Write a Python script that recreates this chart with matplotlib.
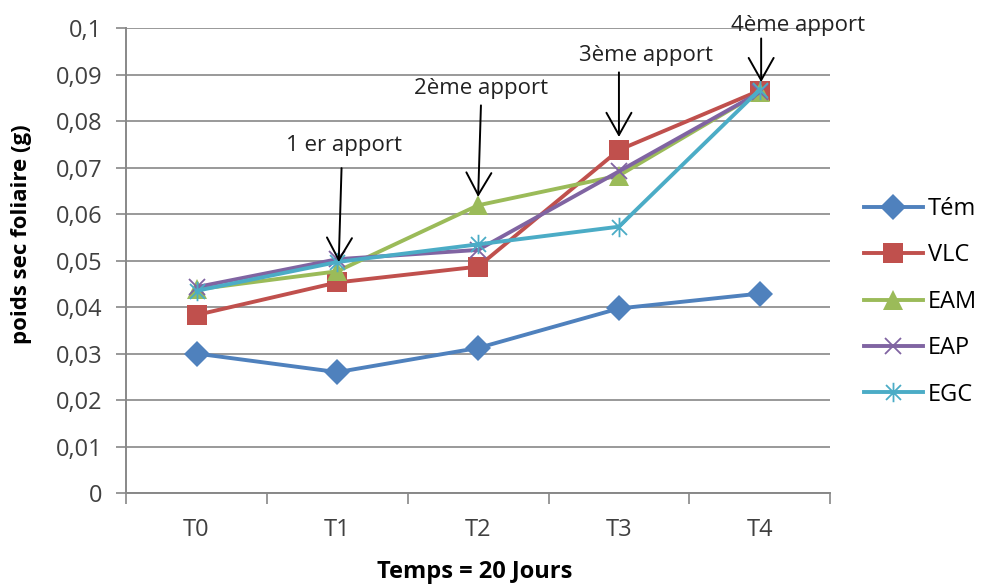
import matplotlib.pyplot as plt
import numpy as np
from matplotlib.path import Path

# Data
categories = ['T0', 'T1', 'T2', 'T3', 'T4']
series_names = ['Tém', 'VLC', 'EAM', 'EAP', 'EGC']
tem = [0.030, 0.026, 0.0312, 0.0397, 0.0429]
vlc = [0.0383, 0.0453, 0.0487, 0.0738, 0.0866]
eam = [0.0438, 0.0477, 0.0619, 0.0683, 0.0862]
eap = [0.0443, 0.0503, 0.0523, 0.0692, 0.0862]
egc = [0.0435, 0.0497, 0.0535, 0.0573, 0.0868]
y_ticks = [0, 0.01, 0.02, 0.03, 0.04, 0.05, 0.06, 0.07, 0.08, 0.09, 0.1]
apports = ['1 er apport', '2ème apport', '3ème apport', '4ème apport']

colors = ['#4F81BD', '#C0504D', '#9BBB59', '#8064A2', '#4BACC6']

# Excel-like asterisk marker (x plus a vertical bar)
star = Path([(-1, -1), (1, 1), (-1, 1), (1, -1), (0, -1.3), (0, 1.3)],
            [Path.MOVETO, Path.LINETO, Path.MOVETO, Path.LINETO, Path.MOVETO, Path.LINETO])
markers = ['D', 's', '^', 'x', star]
msizes = [13, 14, 14, 12, 14]

plt.rcParams['font.family'] = ['Open Sans', 'DejaVu Sans']

fig = plt.figure(figsize=(9.93, 5.88), dpi=100)
ax = fig.add_axes([0.127, 0.1616, 0.709, 0.7904])

x = np.arange(len(categories))
all_series = [tem, vlc, eam, eap, egc]
for i, (vals, name, c, m, ms) in enumerate(zip(all_series, series_names, colors, markers, msizes)):
    if i >= 3:
        ax.plot(x, vals, color=c, lw=2.8, marker=m, ms=ms, mew=1.3,
                markerfacecolor='none', markeredgecolor=c, label=name, zorder=3)
    else:
        ax.plot(x, vals, color=c, lw=2.8, marker=m, ms=ms, mew=0,
                markerfacecolor=c, label=name, zorder=3)

ax.set_xlim(-0.5, len(categories) - 0.5)
ax.set_ylim(0, 0.1)
ax.set_yticks(y_ticks)
ax.set_yticklabels([('%g' % v).replace('.', ',') for v in y_ticks],
                   fontsize=17, color='#404040')
ax.set_xticks(x)
ax.set_xticklabels(categories, fontsize=17, color='#404040')
ax.set_xticks(np.arange(-0.5, len(categories)), minor=True)
ax.tick_params(axis='x', which='major', length=0, pad=18)
ax.tick_params(axis='x', which='minor', length=8, width=1.2, color='#888888', direction='out')
ax.tick_params(axis='y', length=7, width=1.2, color='#888888', direction='out', pad=10)
ax.grid(axis='y', color='#999999', lw=1.4)
ax.set_axisbelow(True)
for s in ['top', 'right']:
    ax.spines[s].set_visible(False)
for s in ['left', 'bottom']:
    ax.spines[s].set_color('#888888')
    ax.spines[s].set_linewidth(1.4)

fig.text(22 / 993, 1 - 234 / 588, 'poids sec foliaire (g)', rotation=90,
         fontsize=16, fontweight='bold', ha='center', va='center')
fig.text(475 / 993, 1 - 572 / 588, 'Temps = 20 Jours',
         fontsize=17, fontweight='bold', ha='center', va='center')

# Annotations for each apport
text_pos = [(1.05, 0.0748), (2.02, 0.0871), (3.19, 0.0942), (4.27, 0.1006)]
arrow_start = [(1.03, 0.0699), (2.02, 0.0834), (3.0, 0.0905), (4.01, 0.0978)]
arrow_tip = [(1.01, 0.0497), (2.0, 0.0637), (3.0, 0.0766), (4.01, 0.0884)]
for label, tp, st, tip in zip(apports, text_pos, arrow_start, arrow_tip):
    ax.text(tp[0], tp[1], label, fontsize=16, ha='center', va='center',
            color='#222222', clip_on=False)
    ax.annotate('', xy=tip, xytext=st, annotation_clip=False,
                arrowprops=dict(arrowstyle='->,head_length=0.8,head_width=0.45',
                                color='black', lw=1.4, mutation_scale=20,
                                shrinkA=0, shrinkB=0))

fig.legend(*ax.get_legend_handles_labels(), loc='upper left',
           bbox_to_anchor=(0.87, 0.665), frameon=False, fontsize=17,
           handlelength=2.5, labelspacing=0.95, handletextpad=0.2,
           borderaxespad=0, borderpad=0)

fig.savefig('out.png', dpi=100)
